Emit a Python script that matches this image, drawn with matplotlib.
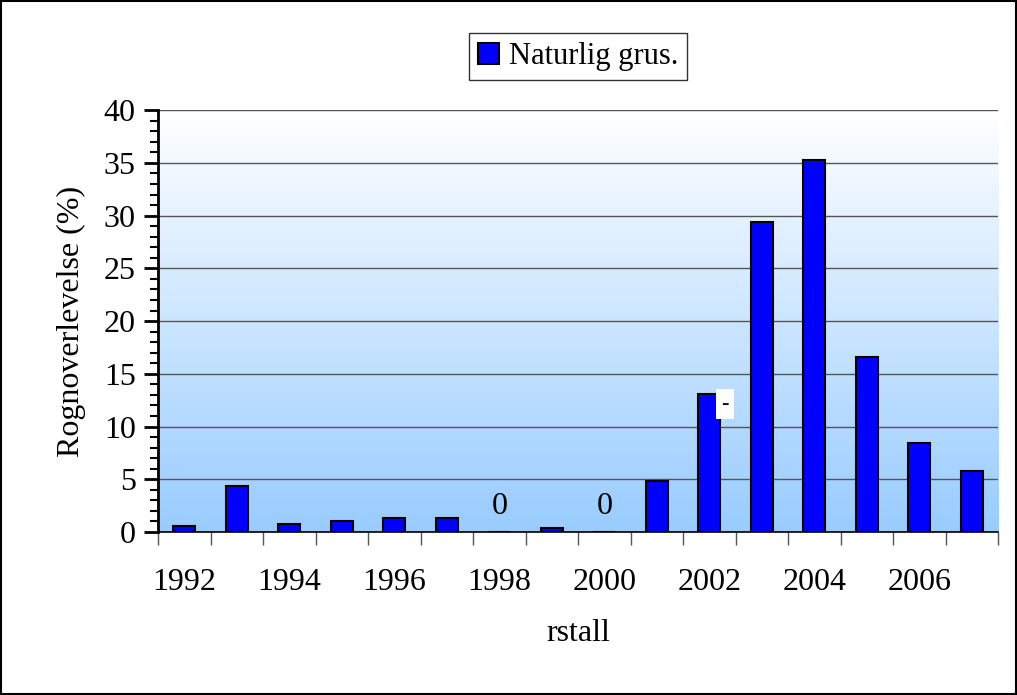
import numpy as np
import matplotlib.pyplot as plt
from matplotlib.colors import LinearSegmentedColormap
from matplotlib.ticker import MultipleLocator, FixedLocator

plt.rcParams['font.family'] = ['Liberation Serif', 'DejaVu Serif']

years = list(range(1992, 2008))
survival = [0.6, 4.4, 0.8, 1.0, 1.3, 1.3, 0.0, 0.4, 0.0, 4.8, 13.1, 29.4, 35.3, 16.6, 8.4, 5.8]
zero_labels = [1998, 2000]

fig = plt.figure(figsize=(10.17, 6.95), dpi=100)
ax = fig.add_axes([0.1554, 0.2345, 0.826, 0.607])

x = np.arange(len(years))
# gradient background
cmap = LinearSegmentedColormap.from_list('bg', ['#99ccff', '#ffffff'])
grad = np.linspace(0, 1, 256).reshape(-1, 1)
ax.imshow(grad, cmap=cmap, origin='lower', aspect='auto',
          extent=[-0.5, len(years) - 0.5, 0, 40], zorder=0)

ax.bar(x, survival, width=0.42, color='#0000ff', edgecolor='black', linewidth=1.5,
       zorder=3, label='Naturlig grus.')

for yr in zero_labels:
    i = years.index(yr)
    ax.text(x[i], 1.0, '0', ha='center', va='bottom', fontsize=23, zorder=4)

i02 = years.index(2002)
ax.text(x[i02] + 0.3, survival[i02] - 1.0, '-', ha='center', va='center', fontsize=16,
        bbox=dict(facecolor='white', edgecolor='none', pad=4), zorder=4)

ax.set_xlim(-0.5, len(years) - 0.5)
ax.set_ylim(0, 40)
ax.yaxis.set_major_locator(MultipleLocator(5))
ax.yaxis.set_minor_locator(MultipleLocator(1))
ax.grid(axis='y', which='major', color='#555555', linewidth=1, zorder=1)

ax.xaxis.set_major_locator(FixedLocator(np.arange(-0.5, len(years), 1)))
ax.set_xticklabels([])
ax.xaxis.set_minor_locator(FixedLocator(x[::2]))
ax.xaxis.set_minor_formatter(plt.FixedFormatter([str(y) for y in years[::2]]))
ax.tick_params(axis='x', which='major', length=9, width=1, color='#555555', direction='out')
ax.tick_params(axis='x', which='minor', length=0, labelsize=23, pad=26)
ax.tick_params(axis='y', which='major', length=10, width=2, labelsize=23, pad=6)
ax.tick_params(axis='y', which='minor', length=6, width=1.5)

for s in ['top', 'right']:
    ax.spines[s].set_visible(False)
ax.spines['left'].set_linewidth(2)
ax.spines['bottom'].set_linewidth(1.2)

ax.set_ylabel('Rognoverlevelse (%)', fontsize=23, labelpad=13)
ax.set_xlabel('rstall', fontsize=23, labelpad=16)

leg = fig.legend(loc='upper center', bbox_to_anchor=(578 / 1017, 1 - 33 / 695), fontsize=22,
                 frameon=True, fancybox=False, edgecolor='black', handlelength=0.7,
                 handleheight=0.7, handletextpad=0.3, borderpad=0.3, borderaxespad=0)
leg.get_frame().set_linewidth(1)

fig.patches.append(plt.Rectangle((0.001, 0.001), 0.998, 0.997, transform=fig.transFigure,
                                 fill=False, edgecolor='black', linewidth=1.5))

fig.savefig('out.png', dpi=100)
